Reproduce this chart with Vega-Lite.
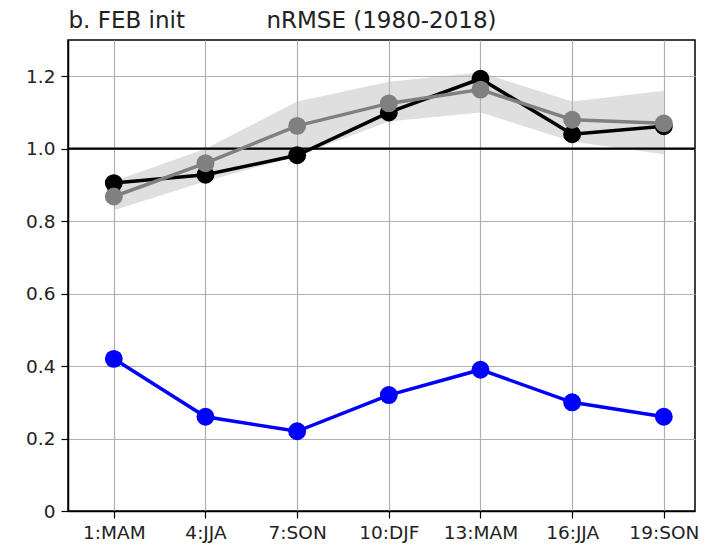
{
  "$schema": "https://vega.github.io/schema/vega-lite/v6.json",
  "width": 627,
  "height": 471,
  "autosize": {"type": "none"},
  "padding": {"left": 68, "top": 40, "right": 22, "bottom": 34},
  "background": "white",
  "config": {
    "font": "DejaVu Sans",
    "view": {"stroke": "black", "strokeWidth": 1.5},
    "axis": {
      "domainColor": "black",
      "domainWidth": 1.5,
      "tickColor": "black",
      "tickWidth": 1.2,
      "tickSize": 7,
      "labelFont": "DejaVu Sans",
      "labelFontSize": 18.5,
      "labelColor": "#222222",
      "gridColor": "#b0b0b0",
      "gridWidth": 1.2
    }
  },
  "title": {
    "text": "nRMSE (1980-2018)",
    "anchor": "middle",
    "font": "DejaVu Sans",
    "fontSize": 23,
    "fontWeight": "normal",
    "color": "#222222",
    "baseline": "alphabetic",
    "offset": 0,
    "dy": 42
  },
  "datasets": {
    "series": [
      {"lead": 1, "season": "1:MAM", "model": "obs-based", "value": 0.42},
      {"lead": 4, "season": "4:JJA", "model": "obs-based", "value": 0.26},
      {"lead": 7, "season": "7:SON", "model": "obs-based", "value": 0.22},
      {"lead": 10, "season": "10:DJF", "model": "obs-based", "value": 0.32},
      {"lead": 13, "season": "13:MAM", "model": "obs-based", "value": 0.39},
      {"lead": 16, "season": "16:JJA", "model": "obs-based", "value": 0.30},
      {"lead": 19, "season": "19:SON", "model": "obs-based", "value": 0.26},
      {"lead": 1, "season": "1:MAM", "model": "forecast", "value": 0.905},
      {"lead": 4, "season": "4:JJA", "model": "forecast", "value": 0.928},
      {"lead": 7, "season": "7:SON", "model": "forecast", "value": 0.982},
      {"lead": 10, "season": "10:DJF", "model": "forecast", "value": 1.100},
      {"lead": 13, "season": "13:MAM", "model": "forecast", "value": 1.193},
      {"lead": 16, "season": "16:JJA", "model": "forecast", "value": 1.040},
      {"lead": 19, "season": "19:SON", "model": "forecast", "value": 1.062},
      {"lead": 1, "season": "1:MAM", "model": "ensemble", "value": 0.868},
      {"lead": 4, "season": "4:JJA", "model": "ensemble", "value": 0.960},
      {"lead": 7, "season": "7:SON", "model": "ensemble", "value": 1.063},
      {"lead": 10, "season": "10:DJF", "model": "ensemble", "value": 1.125},
      {"lead": 13, "season": "13:MAM", "model": "ensemble", "value": 1.163},
      {"lead": 16, "season": "16:JJA", "model": "ensemble", "value": 1.080},
      {"lead": 19, "season": "19:SON", "model": "ensemble", "value": 1.070}
    ],
    "spread": [
      {"lead": 1, "season": "1:MAM", "lo": 0.83, "hi": 0.91},
      {"lead": 4, "season": "4:JJA", "lo": 0.91, "hi": 1.00},
      {"lead": 7, "season": "7:SON", "lo": 0.98, "hi": 1.13},
      {"lead": 10, "season": "10:DJF", "lo": 1.075, "hi": 1.185},
      {"lead": 13, "season": "13:MAM", "lo": 1.10, "hi": 1.21},
      {"lead": 16, "season": "16:JJA", "lo": 1.02, "hi": 1.13},
      {"lead": 19, "season": "19:SON", "lo": 0.985, "hi": 1.16}
    ],
    "reference": [{"level": 1.0}]
  },
  "encoding": {
    "x": {
      "field": "season",
      "type": "ordinal",
      "sort": ["1:MAM", "4:JJA", "7:SON", "10:DJF", "13:MAM", "16:JJA", "19:SON"],
      "scale": {"type": "point", "padding": 0.42, "align": 0.595},
      "axis": {"grid": true, "labelAngle": 0, "labelPadding": 5, "title": null}
    }
  },
  "layer": [
    {
      "data": {"name": "spread"},
      "mark": {"type": "area", "color": "#b8b8b8", "opacity": 0.45},
      "encoding": {
        "y": {
          "field": "lo",
          "type": "quantitative",
          "scale": {"domain": [0, 1.3], "nice": false, "zero": false},
          "axis": {
            "values": [0, 0.1, 0.2, 0.3, 0.4, 0.5, 0.6, 0.7, 0.8, 0.9, 1.0, 1.1, 1.2],
            "grid": true,
            "labelPadding": 6,
            "labelExpr": "datum.value == 0 ? '0' : (round(datum.value * 10) % 2 == 0 ? format(datum.value, '.1f') : '')",
            "title": "b. FEB init",
            "titleAngle": 0,
            "titleAlign": "left",
            "titleBaseline": "alphabetic",
            "titleX": 0,
            "titleY": -13,
            "titleFont": "DejaVu Sans",
            "titleFontSize": 23,
            "titleFontWeight": "normal",
            "titleColor": "#222222"
          }
        },
        "y2": {"field": "hi"}
      }
    },
    {
      "data": {"name": "reference"},
      "mark": {"type": "rule", "color": "black", "strokeWidth": 2.2},
      "encoding": {
        "y": {"field": "level", "type": "quantitative"},
        "x": {"value": 0},
        "x2": {"value": 627}
      }
    },
    {
      "data": {"name": "series"},
      "mark": {"type": "line", "strokeWidth": 3.5},
      "encoding": {
        "y": {"field": "value", "type": "quantitative"},
        "color": {
          "field": "model",
          "type": "nominal",
          "scale": {"domain": ["obs-based", "forecast", "ensemble"], "range": ["#0000ff", "#000000", "#808080"]},
          "legend": null
        },
        "order": {"field": "lead"}
      }
    },
    {
      "data": {"name": "series"},
      "mark": {"type": "point", "shape": "circle", "filled": true, "opacity": 1, "size": 320},
      "encoding": {
        "y": {"field": "value", "type": "quantitative"},
        "color": {"field": "model", "type": "nominal", "legend": null}
      }
    }
  ]
}
